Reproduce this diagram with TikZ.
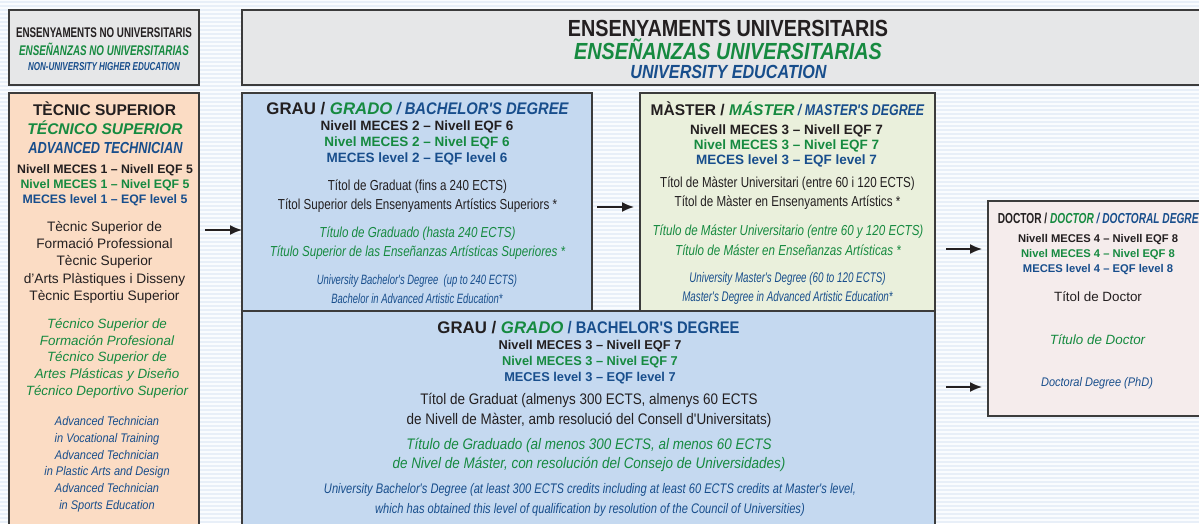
\documentclass[tikz,border=0pt]{standalone}
\usepackage{fontspec}
\setmainfont{Liberation Sans}
\newfontfamily\narrowsf[FakeStretch=0.7]{Liberation Sans}
\newfontfamily\condsf[FakeStretch=0.8]{Liberation Sans}
\newfontfamily\semisf[FakeStretch=0.88]{Liberation Sans}
\newfontfamily\headsf[FakeStretch=0.85]{Liberation Sans}
\usepackage{xcolor}
\usepackage{tikz}
\usetikzlibrary{arrows.meta}

\definecolor{ink}{RGB}{35,31,32}
\definecolor{esgreen}{RGB}{22,138,64}
\definecolor{enblue}{RGB}{24,78,140}
\definecolor{frame}{RGB}{60,60,60}
\definecolor{grayfill}{RGB}{230,231,232}
\definecolor{peach}{RGB}{251,220,196}
\definecolor{bluefill}{RGB}{197,217,240}
\definecolor{greenfill}{RGB}{234,240,220}
\definecolor{pinkfill}{RGB}{245,236,236}
\definecolor{paper}{RGB}{250,252,254}
\definecolor{stripe}{RGB}{232,239,248}

\newcommand{\fsz}[2]{\fontsize{#1}{#2}\selectfont}

\begin{document}
\begin{tikzpicture}[
		%Global config
		x=1pt, y=-1pt,
		>={Latex[length=12pt,width=10pt]},
		line width=1.6pt,
		color=ink,
		%Styles
		Box/.style={
			draw=frame,
			line width=1.6pt,
			inner sep=0pt,
			outer sep=0pt,
			anchor=north west,
		},
		Txt/.style={
			inner sep=0pt,
			align=center,
			text=ink,
		},
		Arr/.style={
			->,
			line width=1.6pt,
			draw=ink,
		},
		Stripe/.style={
			line width=2pt,
			draw=stripe,
		}
		]

		\useasboundingbox (0,0) rectangle (1199,523);
		\clip (0,0) rectangle (1199,523);

		% background
		\fill[paper] (0,0) rectangle (1199,523);
		\foreach \r in {2,6,...,522}
			\draw[Stripe] (0,\r) -- (1199,\r);

		% boxes
		\node[Box, fill=grayfill, minimum width=190pt, minimum height=75pt] (headL) at (9,10) {};
		\node[Box, fill=grayfill, minimum width=972pt, minimum height=75pt] (headR) at (242,10) {};
		\node[Box, fill=peach, minimum width=190pt, minimum height=450pt] (tecnic) at (9,93) {};
		\node[Box, fill=bluefill, minimum width=350pt, minimum height=218pt] (grau) at (242,93) {};
		\node[Box, fill=greenfill, minimum width=295pt, minimum height=218pt] (master) at (640,93) {};
		\node[Box, fill=bluefill, minimum width=693pt, minimum height=230pt] (grauB) at (242,311) {};
		\node[Box, fill=pinkfill, minimum width=240pt, minimum height=215pt] (doctor) at (988,201) {};

		% headers
		\node[Txt, font=\narrowsf\bfseries\fsz{14}{16}] (headL1) at (104,32.5) {ENSENYAMENTS NO UNIVERSITARIS};
		\node[Txt, text=esgreen, font=\narrowsf\bfseries\itshape\fsz{14}{16}] (headL2) at (104,49) {ENSEÑANZAS NO UNIVERSITARIAS};
		\node[Txt, text=enblue, font=\narrowsf\bfseries\itshape\fsz{11.5}{13}] (headL3) at (104,67) {NON-UNIVERSITY HIGHER EDUCATION};

		\node[Txt, font=\headsf\bfseries\fsz{23.3}{25}] (headR1) at (728,28) {ENSENYAMENTS UNIVERSITARIS};
		\node[Txt, text=esgreen, font=\headsf\bfseries\itshape\fsz{23.3}{25}] (headR2) at (728,49.5) {ENSEÑANZAS UNIVERSITARIAS};
		\node[Txt, text=enblue, font=\headsf\bfseries\itshape\fsz{19}{21}] (headR3) at (728.5,72) {UNIVERSITY EDUCATION};

		% tecnic superior
		\node[Txt, font=\bfseries\fsz{15.5}{17}] (tecT1) at (104.5,108.5) {TÈCNIC SUPERIOR};
		\node[Txt, text=esgreen, font=\bfseries\itshape\fsz{15.5}{17}] (tecT2) at (105,128) {TÉCNICO SUPERIOR};
		\node[Txt, text=enblue, font=\condsf\bfseries\itshape\fsz{16}{17}] (tecT3) at (105.5,148) {ADVANCED TECHNICIAN};
		\node[Txt, font=\bfseries\fsz{12.3}{15}] (tecM) at (105,185.5) {Nivell MECES 1 – Nivell EQF 5\\
			{\color{esgreen}Nivel MECES 1 – Nivel EQF 5}\\
			{\color{enblue}MECES level 1 – EQF level 5}};
		\node[Txt, font=\fsz{13.7}{17.2}] (tecC) at (104.5,262.3) {Tècnic Superior de\\Formació Professional\\Tècnic Superior\\d'Arts Plàstiques i Disseny\\Tècnic Esportiu Superior};
		\node[Txt, text=esgreen, font=\itshape\fsz{13.4}{16.7}] (tecE) at (107,358.3) {Técnico Superior de\\Formación Profesional\\Técnico Superior de\\Artes Plásticas y Diseño\\Técnico Deportivo Superior};
		\node[Txt, text=enblue, font=\semisf\itshape\fsz{12.5}{16.7}] (tecN) at (107,464.3) {Advanced Technician\\in Vocational Training\\Advanced Technician\\in Plastic Arts and Design\\Advanced Technician\\in Sports Education};

		% grau
		\node[Txt, font=\bfseries\fsz{16.8}{18}] (grauT) at (417.5,109) {GRAU / {\color{esgreen}\itshape GRADO}{\color{enblue}\semisf\itshape{} / BACHELOR'S DEGREE}};
		\node[Txt, font=\bfseries\fsz{13.5}{15.8}] (grauM) at (417,143) {Nivell MECES 2 – Nivell EQF 6\\
			{\color{esgreen}Nivel MECES 2 – Nivel EQF 6}\\
			{\color{enblue}MECES level 2 – EQF level 6}};
		\node[Txt, font=\condsf\fsz{14.5}{19.3}] (grauC) at (417.5,196.3) {Títol de Graduat (fins a 240 ECTS)\\Títol Superior dels Ensenyaments Artístics Superiors *};
		\node[Txt, text=esgreen, font=\condsf\itshape\fsz{14.5}{19.4}] (grauE) at (417.5,243) {Título de Graduado (hasta 240 ECTS)\\Título Superior de las Enseñanzas Artísticas Superiores *};
		\node[Txt, text=enblue, font=\narrowsf\itshape\fsz{13.5}{19.7}] (grauN) at (417,289.2) {University Bachelor's Degree\ \ (up to 240 ECTS)\\Bachelor in Advanced Artistic Education*};

		% master
		\node[Txt, font=\bfseries\fsz{15.5}{17}] (masT) at (787.5,109) {MÀSTER / {\color{esgreen}\itshape MÁSTER}{\color{enblue}\condsf\itshape{} / MASTER'S DEGREE}};
		\node[Txt, font=\bfseries\fsz{13.5}{15}] (masM) at (786.5,146) {Nivell MECES 3 – Nivell EQF 7\\
			{\color{esgreen}Nivel MECES 3 – Nivel EQF 7}\\
			{\color{enblue}MECES level 3 – EQF level 7}};
		\node[Txt, font=\condsf\fsz{14.5}{19}] (masC) at (787.5,192.8) {Títol de Màster Universitari (entre 60 i 120 ECTS)\\Títol de Màster en Ensenyaments Artístics *};
		\node[Txt, text=esgreen, font=\condsf\itshape\fsz{14.5}{20}] (masE) at (788,240) {Título de Máster Universitario (entre 60 y 120 ECTS)\\Título de Máster en Enseñanzas Artísticas *};
		\node[Txt, text=enblue, font=\narrowsf\itshape\fsz{14}{19.3}] (masN) at (787.5,288.7) {University Master's Degree (60 to 120 ECTS)\\Master's Degree in Advanced Artistic Education*};

		% grau (300 ECTS)
		\node[Txt, font=\bfseries\fsz{16.8}{18}] (gbT) at (588.5,328) {GRAU / {\color{esgreen}\itshape GRADO}{\color{enblue}\semisf{} / BACHELOR'S DEGREE}};
		\node[Txt, font=\bfseries\fsz{12.8}{16}] (gbM) at (590,362.3) {Nivell MECES 3 – Nivell EQF 7\\
			{\color{esgreen}Nivel MECES 3 – Nivel EQF 7}\\
			{\color{enblue}MECES level 3 – EQF level 7}};
		\node[Txt, font=\semisf\fsz{15.3}{20}] (gbC) at (589,410) {Títol de Graduat (almenys 300 ECTS, almenys 60 ECTS\\de Nivell de Màster, amb resolució del Consell d'Universitats)};
		\node[Txt, text=esgreen, font=\semisf\itshape\fsz{15.3}{19.5}] (gbE) at (589,454.7) {Título de Graduado (al menos 300 ECTS, al menos 60 ECTS\\de Nivel de Máster, con resolución del Consejo de Universidades)};
		\node[Txt, text=enblue, font=\condsf\itshape\fsz{13.9}{20}] (gbN) at (590,500) {University Bachelor's Degree (at least 300 ECTS credits including at least 60 ECTS credits at Master's level,\\which has obtained this level of qualification by resolution of the Council of Universities)};

		% doctor
		\node[Txt, anchor=west, font=\narrowsf\bfseries\fsz{14.5}{16}] (docT) at (997,218.3) {DOCTOR / {\color{esgreen}\itshape DOCTOR}{\color{enblue}\itshape{} / DOCTORAL DEGREE}};
		\node[Txt, font=\bfseries\fsz{11.2}{15}] (docM) at (1098,254.8) {Nivell MECES 4 – Nivell EQF 8\\
			{\color{esgreen}Nivel MECES 4 – Nivel EQF 8}\\
			{\color{enblue}MECES level 4 – EQF level 8}};
		\node[Txt, font=\fsz{13.4}{16}] (docC) at (1098,296.7) {Títol de Doctor};
		\node[Txt, text=esgreen, font=\itshape\fsz{13.4}{16}] (docE) at (1097.5,340) {Título de Doctor};
		\node[Txt, text=enblue, font=\semisf\itshape\fsz{12.5}{16}] (docN) at (1097,383.3) {Doctoral Degree (PhD)};

		% arrows
		\draw[Arr, shorten <=6pt] (tecnic.east |- 0,230) -- (grau.west |- 0,230);
		\draw[Arr, shorten <=5pt, shorten >=6pt] (grau.east |- 0,207) -- (master.west |- 0,207);
		\draw[Arr, shorten <=11pt, shorten >=6pt] (master.east |- 0,249) -- (doctor.west |- 0,249);
		\draw[Arr, shorten <=11pt, shorten >=6pt] (grauB.east |- 0,387) -- (doctor.west |- 0,387);
	\end{tikzpicture}
\end{document}
